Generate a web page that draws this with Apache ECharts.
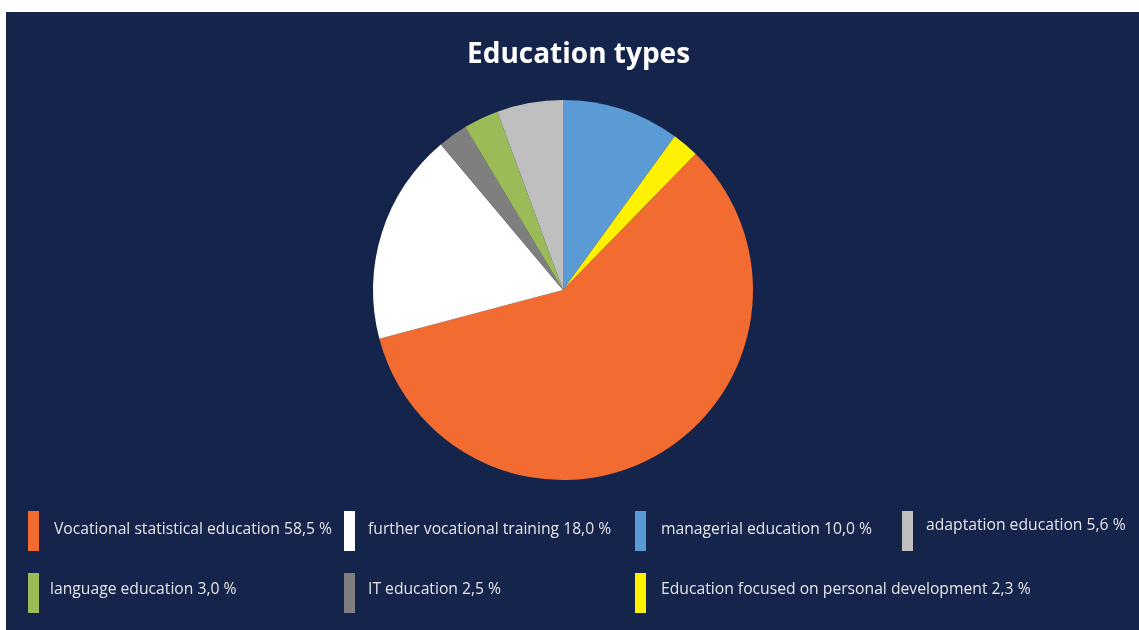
<!DOCTYPE html>
<html>
<head>
<meta charset="utf-8">
<script src="https://cdn.jsdelivr.net/npm/echarts@6/dist/echarts.min.js"></script>
<style>
html,body{margin:0;padding:0;background:#ffffff;}
#chart{position:absolute;left:6px;top:12px;width:1133px;height:618px;background:#15244B;}
</style>
</head>
<body>
<div id="chart"></div>
<script>
// Data (clockwise from 12 o'clock)
const categories = [
  'managerial education',
  'Education focused on personal development',
  'Vocational statistical education',
  'further vocational training',
  'IT education',
  'language education',
  'adaptation education'
];
const values = [10.0, 2.3, 58.5, 18.0, 2.5, 3.0, 5.6];
const colors = ['#5B9BD5', '#FFF200', '#F26B30', '#FFFFFF', '#7F7F7F', '#9BBB59', '#BFBFBF'];
const legendOrder = [
  'Vocational statistical education',
  'further vocational training',
  'managerial education',
  'adaptation education',
  'language education',
  'IT education',
  'Education focused on personal development'
];

const FONT = 'Open Sans';
const legendPos = [
  {left: 22, top: 499, padL: 10, padB: 2},
  {left: 338, top: 499, padL: 8, padB: 2},
  {left: 629, top: 499, padL: 10, padB: 2},
  {left: 896, top: 499, padL: 8, padB: 10},
  {left: 22, top: 561, padL: 6, padB: 6},
  {left: 338, top: 561, padL: 8, padB: 6},
  {left: 629, top: 561, padL: 10, padB: 6}
];

function fmt(v) { return v.toFixed(1).replace('.', ',') + ' %'; }

const legends = legendOrder.map((name, i) => ({
  data: [name],
  left: legendPos[i].left,
  top: legendPos[i].top,
  orient: 'horizontal',
  icon: 'rect',
  itemWidth: 11,
  itemHeight: 40,
  padding: 0,
  selectedMode: false,
  formatter: n => '{t|' + n + ' ' + fmt(values[categories.indexOf(n)]) + '}',
  textStyle: {
    color: '#E6E6E6', fontFamily: FONT, fontSize: 15.7,
    rich: {t: {color: '#E6E6E6', fontFamily: FONT, fontSize: 15.7,
      padding: [0, 0, legendPos[i].padB, legendPos[i].padL]}}
  }
}));

const chart = echarts.init(document.getElementById('chart'), null, {renderer: 'canvas'});
chart.setOption({
  backgroundColor: '#15244B',
  animation: false,
  title: {
    text: 'Education types',
    left: 456,
    top: 24,
    textStyle: {color: '#FFFFFF', fontFamily: 'Open Sans', fontWeight: 'bold', fontSize: 28}
  },
  legend: legends,
  series: [{
    type: 'pie',
    center: [557, 278],
    radius: [0, 190],
    startAngle: 90,
    clockwise: true,
    label: {show: false},
    labelLine: {show: false},
    itemStyle: {borderWidth: 0},
    data: categories.map((c, i) => ({name: c, value: values[i], itemStyle: {color: colors[i]}}))
  }]
});
</script>
</body>
</html>
